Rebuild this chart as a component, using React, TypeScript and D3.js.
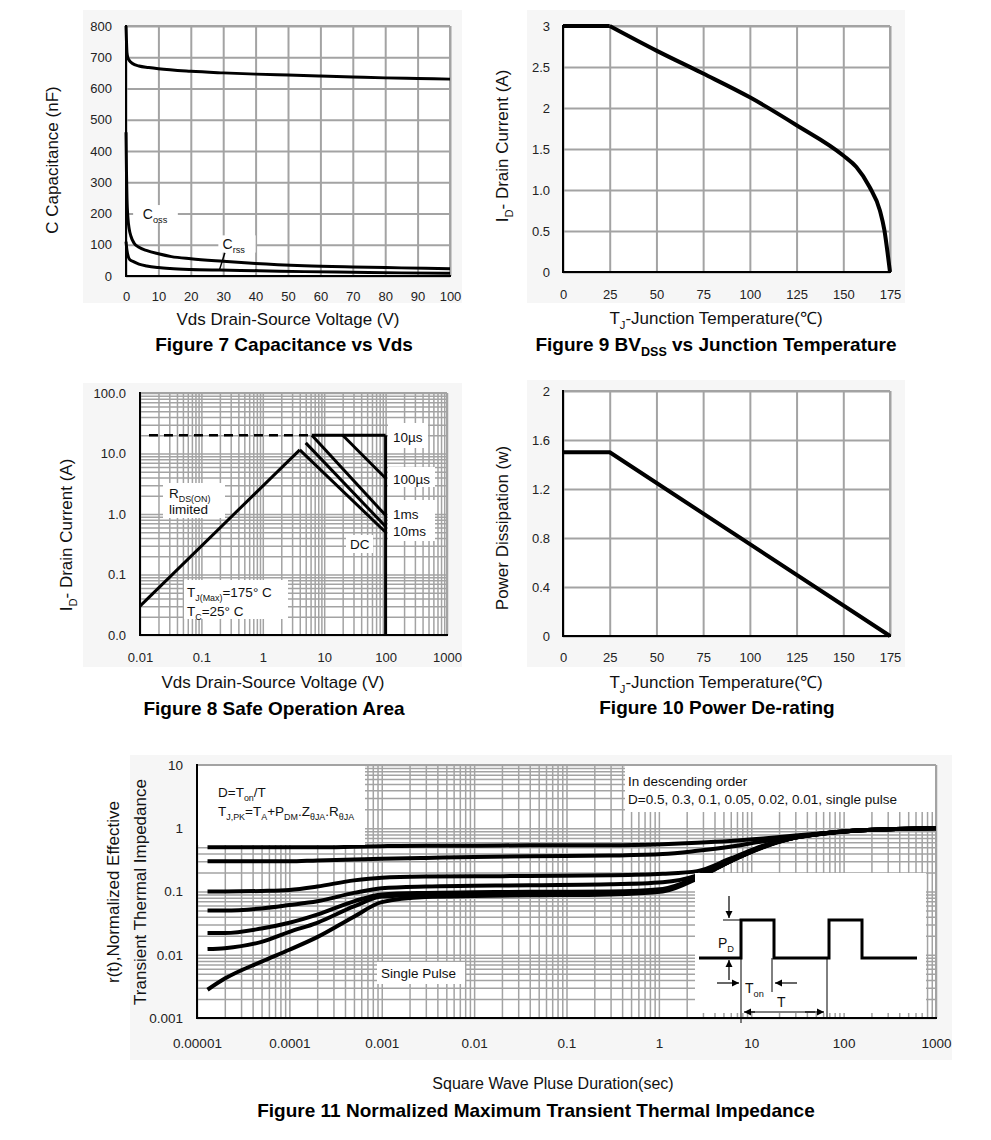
import * as d3 from "d3";
import React, { useEffect, useRef } from "react";

const FONT = "'Liberation Sans', Arial, Helvetica, sans-serif";
const GRID = "#a3a3a3";
const PANEL = "#f6f6f6";

// ---- Figure 7: capacitance vs Vds
const cissV = [0, 0.15, 0.3, 0.6, 1, 2, 4, 7, 10, 20, 30, 40, 50, 60, 70, 80, 90, 100];
const cissC = [800, 750, 715, 698, 690, 680, 672, 667, 663, 655, 650, 646, 643, 640, 637, 634, 632, 630];
const cossV = [0, 0.15, 0.3, 0.6, 1, 1.5, 2.5, 4, 6.5, 10, 14, 20, 30, 40, 55, 70, 85, 100];
const cossC = [460, 330, 250, 185, 150, 128, 105, 92, 81, 71, 62, 55, 47, 40, 33, 29, 26, 23];
const crssV = [0, 0.15, 0.3, 0.7, 1.2, 2.3, 4, 6.4, 10, 13.6, 20, 29, 41, 55, 70, 85, 100];
const crssC = [110, 95, 82, 62, 52, 46, 38, 32, 27, 24, 21, 19, 17, 14, 12, 10, 9];
const f7XTicks = [0, 10, 20, 30, 40, 50, 60, 70, 80, 90, 100];
const f7YTicks = [0, 100, 200, 300, 400, 500, 600, 700, 800];

// ---- Figure 9: drain current vs Tj
const f9T = [0, 25, 50, 75, 100, 125, 150, 157, 164, 169.6, 172, 174, 175];
const f9I = [3, 3, 2.7, 2.42, 2.13, 1.79, 1.42, 1.28, 1.04, 0.75, 0.51, 0.18, 0];
const f9XTicks = [0, 25, 50, 75, 100, 125, 150, 175];
const f9YTicks = [0, 0.5, 1, 1.5, 2, 2.5, 3];
const f9YLabels = ["0", "0.5", "1.0", "1.5", "2", "2.5", "3"];

// ---- Figure 10: power de-rating
const f10T = [0, 25, 175];
const f10P = [1.5, 1.5, 0];
const f10YTicks = [0, 0.4, 0.8, 1.2, 1.6, 2];
const f10YLabels = ["0", "0.4", "0.8", "1.2", "1.6", "2"];

// ---- Figure 8: safe operating area
const soaRdsV = [0.01, 4.0];
const soaRdsI = [0.03, 11.5];
const soaDashV = [0.014, 6.3];
const soaDashI = [20, 20];
const soa10usV = [6.3, 100];
const soa10usI = [20, 20];
const soa100usV = [20, 100];
const soa100usI = [20, 3.9];
const soa1msV = [6.3, 100];
const soa1msI = [20, 0.95];
const soa10msV = [5.0, 100];
const soa10msI = [15, 0.62];
const soaDcV = [4.0, 100];
const soaDcI = [11.5, 0.5];
const soaVmaxV = [100, 100];
const soaVmaxI = [20, 0.01];
const f8XTicks = [0.01, 0.1, 1, 10, 100, 1000];
const f8XLabels = ["0.01", "0.1", "1", "10", "100", "1000"];
const f8YTicks = [0.01, 0.1, 1, 10, 100];
const f8YLabels = ["0.0", "0.1", "1.0", "10.0", "100.0"];

// ---- Figure 11: transient thermal impedance
const f11T = [1.3e-5, 2e-5, 5e-5, 1e-4, 2e-4, 5e-4, 1e-3, 3e-3, 0.01, 0.04, 0.3, 1.1, 2.6, 5.9, 13.5, 30, 71, 160, 370, 1000];
const zD50 = [0.5, 0.5, 0.5, 0.5, 0.5, 0.51, 0.52, 0.53, 0.53, 0.54, 0.54, 0.56, 0.59, 0.63, 0.69, 0.77, 0.85, 0.93, 0.97, 1.0];
const zD30 = [0.3, 0.3, 0.3, 0.3, 0.31, 0.32, 0.33, 0.34, 0.35, 0.36, 0.37, 0.39, 0.44, 0.51, 0.62, 0.72, 0.84, 0.93, 0.97, 1.0];
const zD10 = [0.1, 0.1, 0.102, 0.106, 0.12, 0.15, 0.165, 0.172, 0.174, 0.176, 0.18, 0.19, 0.21, 0.33, 0.53, 0.71, 0.85, 0.93, 0.97, 1.0];
const zD05 = [0.05, 0.05, 0.054, 0.061, 0.07, 0.095, 0.113, 0.12, 0.123, 0.126, 0.13, 0.14, 0.18, 0.31, 0.52, 0.71, 0.85, 0.93, 0.97, 1.0];
const zD02 = [0.022, 0.022, 0.026, 0.032, 0.043, 0.07, 0.09, 0.095, 0.097, 0.099, 0.1, 0.11, 0.17, 0.3, 0.51, 0.71, 0.85, 0.93, 0.97, 1.0];
const zD01 = [0.0123, 0.0127, 0.016, 0.023, 0.032, 0.058, 0.083, 0.088, 0.09, 0.092, 0.094, 0.105, 0.165, 0.3, 0.51, 0.71, 0.85, 0.93, 0.97, 1.0];
const zSingle = [0.0028, 0.0042, 0.0078, 0.012, 0.019, 0.04, 0.068, 0.082, 0.085, 0.087, 0.09, 0.1, 0.16, 0.3, 0.5, 0.71, 0.85, 0.93, 0.97, 1.0];
const f11XTicks = [1e-5, 1e-4, 1e-3, 0.01, 0.1, 1, 10, 100, 1000];
const f11XLabels = ["0.00001", "0.0001", "0.001", "0.01", "0.1", "1", "10", "100", "1000"];
const f11YTicks = [0.001, 0.01, 0.1, 1, 10];
const f11YLabels = ["0.001", "0.01", "0.1", "1", "10"];

type Sel = d3.Selection<any, unknown, null, undefined>;
type Part = [string, boolean?];

// text made of normal / subscript runs
function rich(g: Sel, x: number, y: number, parts: Part[], size: number, opts: any = {}) {
  const t = g
    .append("text")
    .attr("x", x)
    .attr("y", y)
    .attr("font-family", FONT)
    .attr("font-size", size)
    .attr("fill", opts.fill || "#111")
    .attr("text-anchor", opts.anchor || "start")
    .attr("font-weight", opts.weight || "normal");
  if (opts.rotate) t.attr("transform", `rotate(-90 ${x} ${y})`);
  let inSub = false;
  const shift = size * 0.28;
  parts.forEach(([s, sub]) => {
    const ts = t.append("tspan").text(s);
    if (sub) ts.attr("font-size", size * 0.66);
    if (sub && !inSub) ts.attr("dy", shift);
    if (!sub && inSub) ts.attr("dy", -shift);
    inSub = !!sub;
  });
  return t;
}

function logGridVals(lo: number, hi: number) {
  const out: number[] = [];
  for (let e = Math.floor(Math.log10(lo)); e <= Math.ceil(Math.log10(hi)); e++) {
    for (let m = 1; m <= 9; m++) {
      const v = m * Math.pow(10, e);
      if (v >= lo * 0.999 && v <= hi * 1.001) out.push(v);
    }
  }
  return out;
}

interface FrameOpts {
  x: any;
  y: any;
  panel: [number, number, number, number];
  xGrid: number[];
  yGrid: number[];
  gridW: number;
  xTicks: number[];
  xLabels: string[];
  yTicks: number[];
  yLabels: string[];
  xPad: number;
  yPad: number;
  tickSize: number;
}

function frame(svg: Sel, o: FrameOpts) {
  const [l, r] = o.x.range();
  const [b, t] = o.y.range();
  svg
    .append("rect")
    .attr("x", o.panel[0])
    .attr("y", o.panel[1])
    .attr("width", o.panel[2] - o.panel[0])
    .attr("height", o.panel[3] - o.panel[1])
    .attr("fill", PANEL);
  svg.append("rect").attr("x", l).attr("y", t).attr("width", r - l).attr("height", b - t).attr("fill", "#fff");

  // grid
  const gx = svg
    .append("g")
    .attr("transform", `translate(0,${b})`)
    .call(d3.axisBottom(o.x).tickValues(o.xGrid).tickSize(-(b - t)).tickFormat(() => ""));
  gx.select(".domain").remove();
  gx.selectAll("line").attr("stroke", GRID).attr("stroke-width", o.gridW);
  const gy = svg
    .append("g")
    .attr("transform", `translate(${l},0)`)
    .call(d3.axisLeft(o.y).tickValues(o.yGrid).tickSize(-(r - l)).tickFormat(() => ""));
  gy.select(".domain").remove();
  gy.selectAll("line").attr("stroke", GRID).attr("stroke-width", o.gridW);

  // outer border (grey top/right), black axes left/bottom
  svg.append("line").attr("x1", l).attr("x2", r).attr("y1", t).attr("y2", t).attr("stroke", GRID).attr("stroke-width", 2);
  svg.append("line").attr("x1", r).attr("x2", r).attr("y1", t).attr("y2", b).attr("stroke", GRID).attr("stroke-width", 2);
  svg.append("line").attr("x1", l).attr("x2", l).attr("y1", t - 1).attr("y2", b + 1).attr("stroke", "#000").attr("stroke-width", 2);
  svg.append("line").attr("x1", l - 1).attr("x2", r + 1).attr("y1", b).attr("y2", b).attr("stroke", "#000").attr("stroke-width", 2);

  // tick labels
  const ax = svg
    .append("g")
    .attr("transform", `translate(0,${b})`)
    .call(
      d3
        .axisBottom(o.x)
        .tickValues(o.xTicks)
        .tickSize(0)
        .tickPadding(o.xPad)
        .tickFormat((_d: any, i: number) => o.xLabels[i])
    );
  ax.select(".domain").remove();
  ax.attr("font-family", FONT).attr("font-size", o.tickSize);
  ax.selectAll("text").attr("fill", "#222");
  const ay = svg
    .append("g")
    .attr("transform", `translate(${l},0)`)
    .call(
      d3
        .axisLeft(o.y)
        .tickValues(o.yTicks)
        .tickSize(0)
        .tickPadding(o.yPad)
        .tickFormat((_d: any, i: number) => o.yLabels[i])
    );
  ay.select(".domain").remove();
  ay.attr("font-family", FONT).attr("font-size", o.tickSize);
  ay.selectAll("text").attr("fill", "#222");
}

function curve(svg: Sel, x: any, y: any, xs: number[], ys: number[], w: number, smooth = true, dash?: string) {
  const pts = xs.map((v, i) => [v, ys[i]] as [number, number]);
  const line = d3
    .line<[number, number]>()
    .x((d) => x(d[0]))
    .y((d) => y(d[1]))
    .curve(smooth ? d3.curveMonotoneX : d3.curveLinear);
  const p = svg
    .append("path")
    .datum(pts)
    .attr("fill", "none")
    .attr("stroke", "#000")
    .attr("stroke-width", w)
    .attr("stroke-linejoin", "round")
    .attr("d", line);
  if (dash) p.attr("stroke-dasharray", dash);
  return p;
}

function box(svg: Sel, x0: number, y0: number, x1: number, y1: number) {
  svg.append("rect").attr("x", x0).attr("y", y0).attr("width", x1 - x0).attr("height", y1 - y0).attr("fill", "#fff");
}

function arrow(svg: Sel, x1: number, y1: number, x2: number, y2: number) {
  svg.append("line").attr("x1", x1).attr("y1", y1).attr("x2", x2).attr("y2", y2).attr("stroke", "#000").attr("stroke-width", 1.2);
  const a = Math.atan2(y2 - y1, x2 - x1);
  const L = 7;
  const s = 3.5;
  const bx = x2 - L * Math.cos(a);
  const by = y2 - L * Math.sin(a);
  svg
    .append("path")
    .attr(
      "d",
      `M${x2},${y2}L${bx - s * Math.sin(a)},${by + s * Math.cos(a)}L${bx + s * Math.sin(a)},${by - s * Math.cos(a)}Z`
    )
    .attr("fill", "#000");
}

function drawFig7(svg: Sel) {
  const x = d3.scaleLinear().domain([0, 100]).range([126, 450]);
  const y = d3.scaleLinear().domain([0, 800]).range([276, 26]);
  frame(svg, {
    x, y, panel: [83, 10, 462, 303],
    xGrid: f7XTicks, yGrid: f7YTicks, gridW: 2,
    xTicks: f7XTicks, xLabels: f7XTicks.map(String),
    yTicks: f7YTicks, yLabels: f7YTicks.map(String),
    xPad: 16, yPad: 14, tickSize: 13,
  });
  // labels on white
  box(svg, x(2.2), y(227), x(16), y(172));
  rich(svg, x(5.2), y(183), [["C"], ["oss", true]], 14);
  box(svg, x(28.5), y(130), x(40), y(75));
  rich(svg, x(29.8), y(86), [["C"], ["rss", true]], 14);
  svg
    .append("line")
    .attr("x1", x(30.5)).attr("y1", y(74))
    .attr("x2", x(28.8)).attr("y2", y(18))
    .attr("stroke", "#000").attr("stroke-width", 1.5);

  curve(svg, x, y, cissV, cissC, 3);
  curve(svg, x, y, cossV, cossC, 3);
  curve(svg, x, y, crssV, crssC, 3);

  rich(svg, 288, 325, [["Vds Drain-Source Voltage (V)"]], 17, { anchor: "middle" });
  rich(svg, 58, 160, [["C Capacitance (nF)"]], 17, { anchor: "middle", rotate: true });
  rich(svg, 284, 351, [["Figure 7 Capacitance vs Vds"]], 19, { anchor: "middle", weight: "bold", fill: "#000" });
}

function drawFig9(svg: Sel) {
  const x = d3.scaleLinear().domain([0, 175]).range([563, 890]);
  const y = d3.scaleLinear().domain([0, 3]).range([272, 26]);
  frame(svg, {
    x, y, panel: [527, 10, 905, 303],
    xGrid: f9XTicks, yGrid: f9YTicks, gridW: 2,
    xTicks: f9XTicks, xLabels: f9XTicks.map(String),
    yTicks: f9YTicks, yLabels: f9YLabels,
    xPad: 18, yPad: 13, tickSize: 13,
  });
  // flat part straight, then the smooth fall-off
  curve(svg, x, y, f9T.slice(0, 2), f9I.slice(0, 2), 4, false);
  curve(svg, x, y, f9T.slice(1), f9I.slice(1), 4);
  rich(svg, 716, 324, [["T"], ["J", true], ["-Junction Temperature(\u2103)"]], 17, { anchor: "middle" });
  rich(svg, 508, 146, [["I"], ["D", true], ["- Drain Current (A)"]], 17, { anchor: "middle", rotate: true });
  rich(svg, 716, 351, [["Figure 9 BV"], ["DSS", true], [" vs Junction Temperature"]], 19, {
    anchor: "middle", weight: "bold", fill: "#000",
  });
}

function drawFig10(svg: Sel) {
  const x = d3.scaleLinear().domain([0, 175]).range([563, 890]);
  const y = d3.scaleLinear().domain([0, 2]).range([636, 391]);
  frame(svg, {
    x, y, panel: [527, 380, 905, 667],
    xGrid: f9XTicks, yGrid: f10YTicks, gridW: 2,
    xTicks: f9XTicks, xLabels: f9XTicks.map(String),
    yTicks: f10YTicks, yLabels: f10YLabels,
    xPad: 17, yPad: 13, tickSize: 13,
  });
  curve(svg, x, y, f10T, f10P, 4, false);
  rich(svg, 716, 688, [["T"], ["J", true], ["-Junction Temperature(\u2103)"]], 17, { anchor: "middle" });
  rich(svg, 508, 528, [["Power Dissipation (w)"]], 17, { anchor: "middle", rotate: true });
  rich(svg, 717, 714, [["Figure 10 Power De-rating"]], 19, { anchor: "middle", weight: "bold", fill: "#000" });
}

function drawFig8(svg: Sel) {
  const x = d3.scaleLog().domain([0.01, 1000]).range([140, 447]);
  const y = d3.scaleLog().domain([0.01, 100]).range([635, 393]);
  frame(svg, {
    x, y, panel: [83, 383, 462, 667],
    xGrid: logGridVals(0.01, 1000), yGrid: logGridVals(0.01, 100), gridW: 1.5,
    xTicks: f8XTicks, xLabels: f8XLabels,
    yTicks: f8YTicks, yLabels: f8YLabels,
    xPad: 18, yPad: 14, tickSize: 13,
  });
  // annotation boxes
  box(svg, 388, 423, 428, 448);
  box(svg, 388, 467, 435, 487);
  box(svg, 388, 500, 435, 541);
  box(svg, 346, 535, 373, 553);
  box(svg, 163, 483, 225, 518);
  box(svg, 184, 580, 288, 619);

  curve(svg, x, y, soaDashV, soaDashI, 2.5, false, "9,6");
  curve(svg, x, y, soaRdsV, soaRdsI, 3, false);
  curve(svg, x, y, soa10usV, soa10usI, 3, false);
  curve(svg, x, y, soa100usV, soa100usI, 3, false);
  curve(svg, x, y, soa1msV, soa1msI, 3, false);
  curve(svg, x, y, soa10msV, soa10msI, 3, false);
  curve(svg, x, y, soaDcV, soaDcI, 3, false);
  curve(svg, x, y, soaVmaxV, soaVmaxI, 3, false);

  rich(svg, 393, 442, [["10\u00b5s"]], 13.5);
  rich(svg, 393, 484, [["100\u00b5s"]], 13.5);
  rich(svg, 393, 519, [["1ms"]], 13.5);
  rich(svg, 393, 536, [["10ms"]], 13.5);
  rich(svg, 350, 549, [["DC"]], 13.5);
  rich(svg, 169, 498, [["R"], ["DS(ON)", true]], 13.5);
  rich(svg, 169, 514, [["limited"]], 13.5);
  rich(svg, 187, 597, [["T"], ["J(Max)", true], ["=175\u00b0  C"]], 13.5);
  rich(svg, 187, 616, [["T"], ["C", true], ["=25\u00b0  C"]], 13.5);

  rich(svg, 273, 688, [["Vds Drain-Source Voltage (V)"]], 17, { anchor: "middle" });
  rich(svg, 72, 535, [["I"], ["D", true], ["- Drain Current (A)"]], 17, { anchor: "middle", rotate: true });
  rich(svg, 274, 715, [["Figure 8 Safe Operation Area"]], 19, { anchor: "middle", weight: "bold", fill: "#000" });
}

function drawFig11(svg: Sel) {
  const x = d3.scaleLog().domain([1e-5, 1000]).range([197, 936]);
  const y = d3.scaleLog().domain([0.001, 10]).range([1018, 765]);
  frame(svg, {
    x, y, panel: [130, 755, 952, 1060],
    xGrid: logGridVals(1e-5, 1000), yGrid: logGridVals(0.001, 10), gridW: 1.5,
    xTicks: f11XTicks, xLabels: f11XLabels,
    yTicks: f11YTicks, yLabels: f11YLabels,
    xPad: 20, yPad: 14, tickSize: 13.5,
  });
  [zD50, zD30, zD10, zD05, zD02, zD01, zSingle].forEach((s) => curve(svg, x, y, f11T, s, 4));

  // text boxes
  box(svg, 198, 766, 365, 845);
  rich(svg, 218, 797, [["D=T"], ["on", true], ["/T"]], 13.5);
  rich(svg, 218, 816, [["T"], ["J,PK", true], ["=T"], ["A", true], ["+P"], ["DM", true], ["."], ["Z"], ["\u03b8JA", true], ["."], ["R"], ["\u03b8JA", true]], 13.5);
  box(svg, 625, 766, 935, 812);
  rich(svg, 628, 786, [["In descending order"]], 13.5);
  rich(svg, 628, 804, [["D=0.5, 0.3, 0.1, 0.05, 0.02, 0.01, single pulse"]], 13.5);
  box(svg, 377, 962, 465, 984);
  rich(svg, 381, 978, [["Single Pulse"]], 13.5);

  // pulse inset
  const ix = 695;
  const iy = 873;
  box(svg, ix, iy, ix + 231, iy + 140);
  const lo = iy + 85;
  const hi = iy + 47;
  const wave: [number, number][] = [
    [ix + 4, lo], [ix + 46, lo], [ix + 46, hi], [ix + 79, hi], [ix + 79, lo],
    [ix + 134, lo], [ix + 134, hi], [ix + 167, hi], [ix + 167, lo], [ix + 222, lo],
  ];
  svg.append("path").attr("d", d3.line()(wave)).attr("fill", "none").attr("stroke", "#000").attr("stroke-width", 3);
  const thin = (x1: number, y1: number, x2: number, y2: number) =>
    svg.append("line").attr("x1", x1).attr("y1", y1).attr("x2", x2).attr("y2", y2).attr("stroke", "#000").attr("stroke-width", 1);
  thin(ix + 28, hi, ix + 46, hi);
  thin(ix + 28, lo, ix + 46, lo);
  thin(ix + 46, lo, ix + 46, iy + 150);
  thin(ix + 77, lo, ix + 77, iy + 119);
  thin(ix + 132, lo, ix + 132, iy + 144);
  arrow(svg, ix + 34, hi - 24, ix + 34, hi - 2);
  arrow(svg, ix + 34, lo + 22, ix + 34, lo + 2);
  arrow(svg, ix + 22, iy + 110, ix + 44, iy + 110);
  arrow(svg, ix + 102, iy + 110, ix + 80, iy + 110);
  arrow(svg, ix + 60, iy + 139, ix + 49, iy + 139);
  arrow(svg, ix + 110, iy + 139, ix + 129, iy + 139);
  thin(ix + 55, iy + 139, ix + 120, iy + 139);
  rich(svg, ix + 23, iy + 75, [["P"], ["D", true]], 14);
  rich(svg, ix + 50, iy + 120, [["T"], ["on", true]], 14);
  rich(svg, ix + 82, iy + 134, [["T"]], 14);

  rich(svg, 553, 1089, [["Square Wave Pluse Duration(sec)"]], 16, { anchor: "middle" });
  rich(svg, 119, 892, [["r(t),Normalized Effective"]], 17, { anchor: "middle", rotate: true });
  rich(svg, 146, 892, [["Transient Thermal Impedance"]], 17, { anchor: "middle", rotate: true });
  rich(svg, 536, 1117, [["Figure 11 Normalized Maximum Transient Thermal Impedance"]], 19, {
    anchor: "middle", weight: "bold", fill: "#000",
  });
}

export default function App() {
  const ref = useRef<SVGSVGElement | null>(null);

  useEffect(() => {
    if (!ref.current) return;
    const svg = d3.select(ref.current) as unknown as Sel;
    svg.selectAll("*").remove();
    svg.append("rect").attr("width", 991).attr("height", 1140).attr("fill", "#fff");
    drawFig7(svg);
    drawFig9(svg);
    drawFig8(svg);
    drawFig10(svg);
    drawFig11(svg);
  }, []);

  return (
    <svg
      ref={ref}
      width={991}
      height={1140}
      style={{ position: "absolute", left: 0, top: 0, display: "block" }}
    />
  );
}
